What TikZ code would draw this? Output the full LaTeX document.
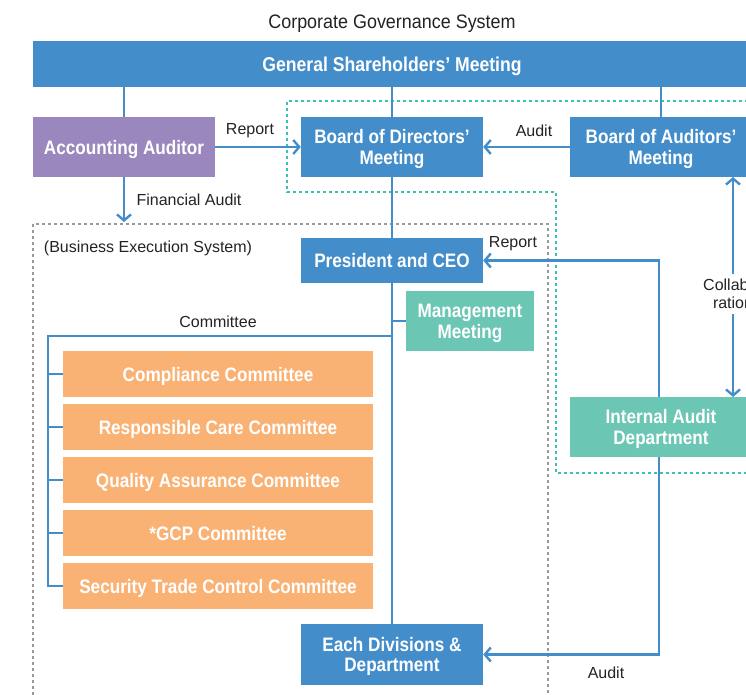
\documentclass[tikz,border=0pt]{standalone}
\usepackage{fontspec}
\setmainfont{Liberation Sans}
\newfontfamily\condb{Liberation Sans}[FakeStretch=0.88]
\newfontfamily\condt{Liberation Sans}[FakeStretch=0.92]
\usetikzlibrary{arrows.meta}
\definecolor{cblue}{RGB}{67,141,202}
\definecolor{cteal}{RGB}{107,198,180}
\definecolor{cpurple}{RGB}{154,135,189}
\definecolor{corange}{RGB}{249,178,116}
\definecolor{dteal}{RGB}{60,192,176}
\definecolor{txt}{RGB}{35,35,35}
\newcommand\dn[1]{\raisebox{-3pt}[\height][\depth]{\begin{tabular}{@{}c@{}}#1\end{tabular}}}
\tikzset{
  box/.style={draw=none, text=white, font=\condb\fontsize{19.5}{20.5}\selectfont\bfseries, inner sep=0pt},
  bluebox/.style={box, fill=cblue},
  wide/.style={minimum width=182pt, minimum height=60pt},
  comm/.style={box, fill=corange, minimum width=310pt, minimum height=46pt},
  lbl/.style={text=txt, font=\fontsize{16}{17.5}\selectfont, inner sep=0pt, align=center},
  conn/.style={draw=cblue, line width=2.4pt},
  arr/.style={conn, -{Straight Barb[length=6pt,width=14pt,line width=2.4pt]}},
  darr/.style={conn, {Straight Barb[length=6pt,width=14pt,line width=2.4pt]}-{Straight Barb[length=6pt,width=14pt,line width=2.4pt]}},
}
\begin{document}
\begin{tikzpicture}[x=1pt,y=-1pt]
\useasboundingbox (0,0) rectangle (746,695);
\clip (0,0) rectangle (746,695);
% containers
\draw[dteal, line width=1.3pt, dash pattern=on 3pt off 3pt] (760,101) -- (287,101) -- (287,192) -- (556,192) -- (556,473) -- (760,473);
\draw[gray!80, line width=1.3pt, dash pattern=on 3pt off 3pt] (33,224) rectangle (548,705);
% title
\node[lbl, font=\condt\fontsize{19.5}{21}\selectfont] (title) at (392,24) {Corporate Governance System};
% nodes
\node[bluebox, minimum width=718pt, minimum height=46pt, font=\condb\fontsize{20}{21}\selectfont\bfseries] (gsm) at (392,64) {\dn{General Shareholders’ Meeting}};
\node[box, fill=cpurple, wide] (aa) at (124,147) {\dn{Accounting Auditor}};
\node[bluebox, wide] (bod) at (392,147) {\dn{Board of Directors’\\Meeting}};
\node[bluebox, wide] (boa) at (661,147) {\dn{Board of Auditors’\\Meeting}};
\node[bluebox, minimum width=182pt, minimum height=45pt] (ceo) at (392,260.5) {\dn{President and CEO}};
\node[box, fill=cteal, minimum width=128pt, minimum height=60pt] (mm) at (470,321) {\dn{Management\\Meeting}};
\node[comm] (c1) at (218,374) {\dn{Compliance Committee}};
\node[comm] (c2) at (218,427) {\dn{Responsible Care Committee}};
\node[comm] (c3) at (218,480) {\dn{Quality Assurance Committee}};
\node[comm] (c4) at (218,533) {\dn{*GCP Committee}};
\node[comm] (c5) at (218,586) {\dn{Security Trade Control Committee}};
\node[bluebox, minimum width=182pt, minimum height=61pt] (edd) at (392,654.5) {\dn{Each Divisions \&\\Department}};
\node[box, fill=cteal, wide] (iad) at (661,427) {\dn{Internal Audit\\Department}};
% labels
\node[lbl] (l1) at (250,131) {Report};
\node[lbl] (l2) at (534,131) {Audit};
\node[lbl] (l3) at (189,200) {Financial Audit};
\node[lbl] (l4) at (148,248) {(Business Execution System)};
\node[lbl] (l5) at (218,322) {Committee};
\node[lbl] (l6) at (513,244) {Report};
\node[lbl] (l7) at (606,673) {Audit};
% connectors
\draw[conn] (aa.north) -- (aa.north |- gsm.south);
\draw[conn] (bod.north) -- (gsm.south -| bod.north);
\draw[conn] (boa.north) -- (gsm.south -| boa.north);
\draw[arr] (aa.east) -- (bod.west);
\draw[arr] (boa.west) -- (bod.east);
\coordinate (fa) at (124,222);
\draw[arr] (aa.south) -- (fa);
\draw[conn] (bod.south) -- (ceo.north);
\draw[conn] (ceo.south) -- (edd.north);
\draw[conn] (mm.west) -- (mm.west -| ceo.south);
\coordinate (ct) at (392,336);
\coordinate (cl) at (48,336);
\coordinate (cb) at (48,586);
\draw[conn] (ct) -- (cl) -- (cb) -- (c5.west);
\foreach \c in {c1,c2,c3,c4} \draw[conn] (\c.west) -- (\c.west -| cl);
\coordinate (ia) at (659,397);
\draw[arr] (ia) |- (ceo.east);
\coordinate (ib) at (659,457);
\draw[arr] (ib) |- (edd.east);
\coordinate (ca) at (733,177);
\coordinate (cz) at (733,397);
\draw[darr] (ca) -- (cz);
\node[lbl, fill=white, inner ysep=5pt, inner xsep=2pt] (collab) at (733,294) {Collabo-\\ration};
\end{tikzpicture}
\end{document}
